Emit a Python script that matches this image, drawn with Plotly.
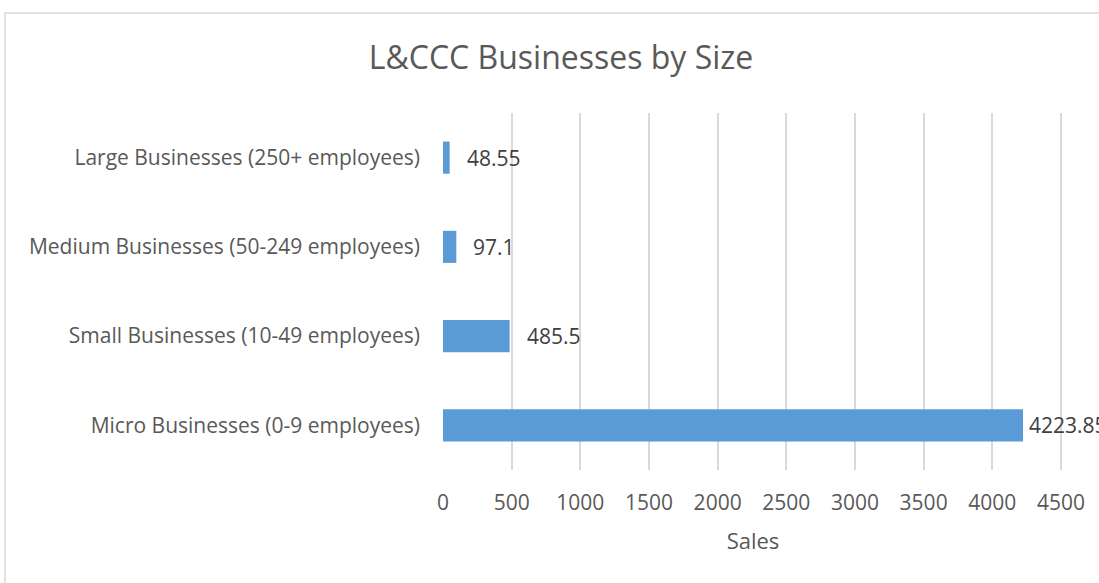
import plotly.graph_objects as go

# Business counts by size band (bottom-to-top order on the chart)
categories = [
    "Micro Businesses (0-9 employees)",
    "Small Businesses (10-49 employees)",
    "Medium Businesses (50-249 employees)",
    "Large Businesses (250+ employees)",
]
sales = [4223.85, 485.5, 97.1, 48.55]
tick_values = [0, 500, 1000, 1500, 2000, 2500, 3000, 3500, 4000, 4500]
label_gap = [4, 15, 15, 15]  # pixel gap between bar end and its value label

FONT = "Open Sans"
TEXT = "#595959"
GRID = "#d9d9d9"
BAR = "#5b9bd5"

fig = go.Figure(
    go.Bar(
        y=categories,
        x=sales,
        orientation="h",
        width=0.36,
        marker=dict(color=BAR, line=dict(width=0)),
        cliponaxis=False,
        hoverinfo="x+y",
    )
)

# Value labels just past the end of each bar
for cat, val, gap in zip(categories, sales, label_gap):
    fig.add_annotation(
        x=val,
        y=cat,
        xref="x",
        yref="y",
        text=f"{val:g}",
        showarrow=False,
        xanchor="left",
        yanchor="middle",
        xshift=gap,
        font=dict(family=FONT, size=21, color="#404040"),
    )

fig.update_layout(
    width=1099,
    height=583,
    margin=dict(l=443, r=36, t=113, b=113),
    paper_bgcolor="white",
    plot_bgcolor="white",
    showlegend=False,
    title=dict(
        text="L&CCC Businesses by Size",
        font=dict(family=FONT, size=32, color=TEXT),
        x=561 / 1099,
        xref="container",
        xanchor="center",
        y=1 - 58 / 583,
        yref="container",
        yanchor="middle",
    ),
    font=dict(family=FONT, color=TEXT),
)

fig.update_xaxes(
    range=[0, 4515],
    tickvals=tick_values,
    showgrid=True,
    gridcolor=GRID,
    gridwidth=2,
    zeroline=False,
    showline=False,
    ticks="",
    ticklabelstandoff=18,
    tickfont=dict(family=FONT, size=21, color=TEXT),
    title=dict(text="Sales", font=dict(family=FONT, size=22, color=TEXT), standoff=18),
)

fig.update_yaxes(
    categoryorder="array",
    categoryarray=categories,
    showgrid=False,
    zeroline=False,
    showline=False,
    ticks="",
    ticklabelstandoff=22,
    tickfont=dict(family=FONT, size=21, color=TEXT),
)

# Light outer frame around the chart area
fig.add_shape(
    type="rect",
    xref="paper",
    yref="paper",
    x0=(5 - 443) / 620,
    x1=(1110 - 443) / 620,
    y0=(470 - 600) / 357,
    y1=(470 - 13) / 357,
    line=dict(color=GRID, width=1.5),
    fillcolor="rgba(0,0,0,0)",
    layer="below",
)

fig.write_html("out.html")
